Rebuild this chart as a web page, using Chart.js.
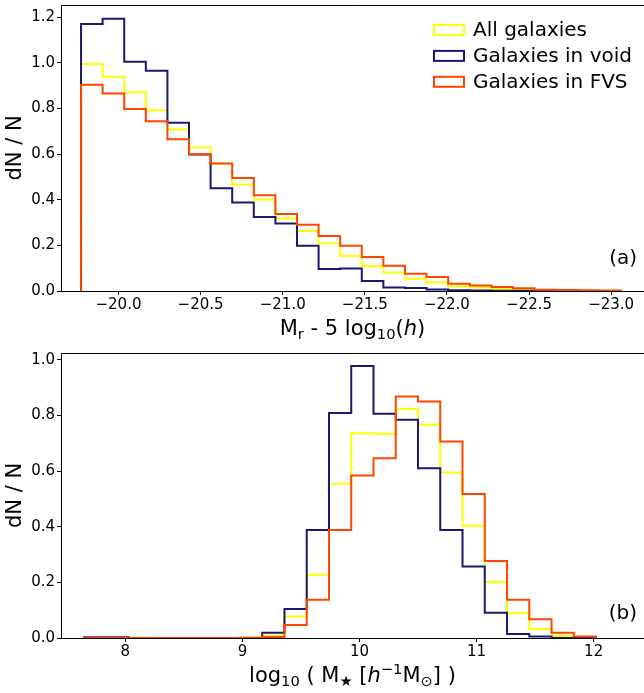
<!DOCTYPE html>
<html>
<head>
<meta charset="utf-8">
<script src="https://cdn.jsdelivr.net/npm/chart.js@4.4.1/dist/chart.umd.min.js"></script>
<style>
  html, body { margin: 0; padding: 0; background: #fff; }
  #wrap { position: relative; width: 644px; height: 693px; overflow: hidden; }
  .panel { position: absolute; left: 0; width: 644px; }
  #top { top: 0; height: 345px; }
  #bottom { top: 345px; height: 348px; }
</style>
</head>
<body>
<div id="wrap">
  <div class="panel" id="top"><canvas id="magChart"></canvas></div>
  <div class="panel" id="bottom"><canvas id="massChart"></canvas></div>
</div>
<script>
// panel (a): M_r histogram, 25 bins going to brighter (more negative) magnitudes
var magBinStart = -19.772;
var magBinWidth = -0.1315;
var magAll = [0.995, 0.939, 0.871, 0.792, 0.708, 0.629, 0.559, 0.467, 0.401, 0.318, 0.263, 0.208, 0.153,
  0.110, 0.081, 0.054, 0.038, 0.021, 0.015, 0.010, 0.006, 0.003, 0.002, 0.001, 0.001];
var magVoid = [1.171, 1.194, 1.005, 0.966, 0.738, 0.599, 0.450, 0.388, 0.324, 0.296, 0.198, 0.096, 0.099,
  0.044, 0.015, 0.013, 0.007, 0.003, 0.002, 0.001, 0.001, 0, 0, 0, 0];
var magFvs = [0.904, 0.866, 0.798, 0.744, 0.665, 0.600, 0.559, 0.496, 0.420, 0.338, 0.291, 0.241, 0.198,
  0.149, 0.111, 0.076, 0.061, 0.032, 0.024, 0.018, 0.012, 0.006, 0.004, 0.003, 0.002];
var magTicks = [-20.0, -20.5, -21.0, -21.5, -22.0, -22.5, -23.0];
var magYTicks = [0, 0.2, 0.4, 0.6, 0.8, 1.0, 1.2];

// panel (b): stellar mass histogram, 23 bins
var massBinStart = 7.648;
var massBinWidth = 0.1901;
var massAll = [0.001, 0.001, 0.001, 0, 0, 0, 0, 0.001, 0.007, 0.077, 0.227, 0.554, 0.736, 0.734, 0.823,
  0.766, 0.595, 0.403, 0.200, 0.089, 0.032, 0.007, 0.001];
var massVoid = [0.003, 0.003, 0, 0, 0, 0, 0, 0, 0.019, 0.104, 0.388, 0.808, 0.977, 0.806, 0.784,
  0.610, 0.388, 0.257, 0.091, 0.014, 0.005, 0, 0];
var massFvs = [0.001, 0.001, 0, 0, 0, 0, 0, 0.001, 0.004, 0.047, 0.137, 0.388, 0.584, 0.646, 0.868,
  0.850, 0.706, 0.517, 0.277, 0.137, 0.067, 0.019, 0.005];
var massTicks = [8, 9, 10, 11, 12];
var massYTicks = [0, 0.2, 0.4, 0.6, 0.8, 1.0];

var seriesLabels = ["All galaxies", "Galaxies in void", "Galaxies in FVS"];
var seriesColors = ["#ffff00", "#191970", "#ff4500"];

var FONT = "'DejaVu Sans', sans-serif";
Chart.defaults.font.family = FONT;
Chart.defaults.color = "#000";

// outline of a step histogram: up at first edge, across each bin, down at last edge
function stepPoints(start, width, values) {
  var pts = [{ x: start, y: 0 }];
  for (var i = 0; i < values.length; i++) {
    pts.push({ x: start + i * width, y: values[i] });
  }
  pts.push({ x: start + values.length * width, y: 0 });
  return pts;
}

function makeDatasets(start, width, series) {
  return series.map(function (vals, i) {
    return {
      label: seriesLabels[i],
      data: stepPoints(start, width, vals),
      borderColor: seriesColors[i],
      backgroundColor: seriesColors[i],
      borderWidth: 2,
      stepped: "before",
      pointRadius: 0,
      fill: false,
      order: 3 - i,
    };
  });
}

function minusSign(s) {
  return String(s).replace("-", "\u2212");
}

function drawRich(ctx, parts, cx, baseY, size) {
  function fontFor(p) {
    var s = p.sub || p.sup ? size * 0.7 : size;
    return (p.it ? "italic " : "") + s + "px " + FONT;
  }
  var total = 0;
  parts.forEach(function (p) {
    ctx.font = fontFor(p);
    p.w = ctx.measureText(p.t).width;
    total += p.w;
  });
  var x = cx - total / 2;
  ctx.textAlign = "left";
  ctx.textBaseline = "alphabetic";
  ctx.fillStyle = "#000";
  parts.forEach(function (p) {
    ctx.font = fontFor(p);
    var dy = p.sub ? size * 0.22 : p.sup ? -size * 0.38 : 0;
    ctx.fillText(p.t, x, baseY + dy);
    x += p.w;
  });
}

function framePlugin(cfg) {
  return {
    id: "frame",
    afterDraw: function (chart) {
      var ctx = chart.ctx;
      var a = chart.chartArea;
      ctx.save();
      ctx.strokeStyle = "#000";
      ctx.lineWidth = 1;
      ctx.beginPath();
      var y = Math.round(a.top) + 0.5;
      ctx.moveTo(a.left, y);
      ctx.lineTo(a.right, y);
      ctx.stroke();

      drawRich(ctx, cfg.xTitle, (a.left + a.right) / 2, a.bottom + 43.5, 21);

      ctx.font = "20px " + FONT;
      ctx.fillStyle = "#000";
      ctx.textAlign = "right";
      ctx.textBaseline = "middle";
      ctx.fillText(cfg.letter, a.right - 7, a.bottom - cfg.letterUp);

      if (cfg.legend) {
        chart.data.datasets.forEach(function (ds, i) {
          var top = 25 + i * 25.9;
          ctx.strokeStyle = ds.borderColor;
          ctx.lineWidth = 2;
          ctx.strokeRect(434, top, 30, 10);
          ctx.fillStyle = "#000";
          ctx.textAlign = "left";
          ctx.fillText(ds.label, 473, top + 6);
        });
      }
      ctx.restore();
    },
  };
}

function panelOptions(cfg) {
  return {
    responsive: true,
    maintainAspectRatio: false,
    animation: false,
    layout: { padding: { top: cfg.padTop, left: 0, right: 0, bottom: 0 } },
    plugins: { legend: { display: false }, tooltip: { enabled: false } },
    scales: {
      x: {
        type: "linear",
        min: cfg.xMin,
        max: cfg.xMax,
        reverse: cfg.reverse,
        grid: { drawOnChartArea: false, drawTicks: true, tickLength: 4, tickColor: "#000" },
        border: { color: "#000", width: 1 },
        ticks: {
          font: { size: 15 },
          color: "#000",
          padding: 1,
          maxRotation: 0,
          autoSkip: false,
          callback: cfg.xFormat,
        },
        afterBuildTicks: function (s) {
          s.ticks = cfg.xTicks.map(function (v) { return { value: v }; });
        },
        afterFit: function (s) {
          s.height = cfg.xAxisHeight;
          s.paddingLeft = 0;
          s.paddingRight = 0;
        },
      },
      y: {
        type: "linear",
        min: 0,
        max: cfg.yMax,
        grid: { drawOnChartArea: false, drawTicks: true, tickLength: 4, tickColor: "#000" },
        border: { color: "#000", width: 1 },
        title: { display: true, text: "dN / N", font: { size: 21 }, color: "#000", padding: { top: 3, bottom: 0 } },
        ticks: {
          font: { size: 15 },
          color: "#000",
          padding: 2,
          callback: function (v) { return v.toFixed(1); },
        },
        afterBuildTicks: function (s) {
          s.ticks = cfg.yTicks.map(function (v) { return { value: v }; });
        },
        afterFit: function (s) {
          s.width = 61;
          s.paddingTop = 0;
          s.paddingBottom = 0;
        },
      },
    },
  };
}

new Chart(document.getElementById("magChart"), {
  type: "line",
  data: { datasets: makeDatasets(magBinStart, magBinWidth, [magAll, magVoid, magFvs]) },
  options: panelOptions({
    padTop: 5, xMin: -23.2, xMax: -19.65, reverse: true, xTicks: magTicks, yTicks: magYTicks,
    yMax: 1.254, xAxisHeight: 54,
    xFormat: function (v) { return minusSign(v.toFixed(1)); },
  }),
  plugins: [framePlugin({
    letter: "(a)", letterUp: 32, legend: true,
    xTitle: [{ t: "M" }, { t: "r", sub: 1 }, { t: " - 5 log" }, { t: "10", sub: 1 }, { t: "(" }, { t: "h", it: 1 }, { t: ")" }],
  })],
});

new Chart(document.getElementById("massChart"), {
  type: "line",
  data: { datasets: makeDatasets(massBinStart, massBinWidth, [massAll, massVoid, massFvs]) },
  options: panelOptions({
    padTop: 8, xMin: 7.45, xMax: 12.43, reverse: false, xTicks: massTicks, yTicks: massYTicks,
    yMax: 1.024, xAxisHeight: 55,
    xFormat: function (v) { return String(v); },
  }),
  plugins: [framePlugin({
    letter: "(b)", letterUp: 24, legend: false,
    xTitle: [{ t: "log" }, { t: "10", sub: 1 }, { t: " ( M" }, { t: "\u2605", sub: 1 }, { t: " [" }, { t: "h", it: 1 },
      { t: "\u22121", sup: 1 }, { t: "M" }, { t: "\u2299", sub: 1 }, { t: "] )" }],
  })],
});
</script>
</body>
</html>
